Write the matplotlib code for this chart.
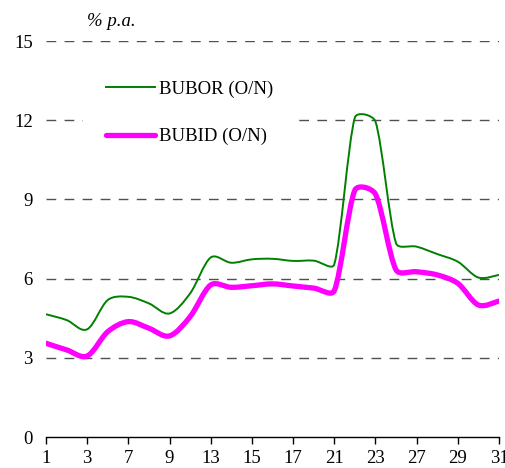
import numpy as np
import matplotlib
matplotlib.use("Agg")
import matplotlib.pyplot as plt
from matplotlib.path import Path
from matplotlib.patches import PathPatch
from matplotlib.lines import Line2D

# business days of the month (every second one is labelled)
days = [1, 2, 3, 6, 7, 8, 9, 10, 13, 14, 15, 16, 17, 20, 21, 22, 23, 24, 27, 28, 29, 30, 31]
bubor = [4.65, 4.43, 4.08, 5.19, 5.31, 5.06, 4.68, 5.44, 6.80, 6.60, 6.73, 6.75,
         6.67, 6.68, 6.54, 12.10, 11.95, 7.34, 7.21, 6.93, 6.64, 6.04, 6.14]
bubid = [3.55, 3.30, 3.07, 3.99, 4.37, 4.12, 3.83, 4.56, 5.76, 5.67, 5.73, 5.80,
         5.72, 5.64, 5.54, 9.35, 9.20, 6.33, 6.26, 6.14, 5.82, 5.00, 5.15]
y_ticks = [0, 3, 6, 9, 12, 15]

plt.rcParams['font.family'] = ['Liberation Serif', 'DejaVu Serif']
FS = 13.5
PX_X = 453 / 22.0   # pixels per category
PX_Y = 396 / 15.0   # pixels per percent


def smooth_path(xs, ys):
    # excel-like smoothed line: cubic bezier with catmull-rom tangents,
    # tangent length capped at a third of the segment (in screen space)
    pts = np.column_stack([np.asarray(xs) * PX_X, np.asarray(ys) * PX_Y]).astype(float)
    n = len(pts)
    tang = []
    for i in range(n):
        tang.append((pts[min(i + 1, n - 1)] - pts[max(i - 1, 0)]) / 6.0)
    verts = [pts[0]]
    codes = [Path.MOVETO]
    for i in range(n - 1):
        p1, p2 = pts[i], pts[i + 1]
        seg = np.hypot(*(p2 - p1)) / 3.0
        t1, t2 = tang[i], tang[i + 1]
        l1, l2 = np.hypot(*t1), np.hypot(*t2)
        if l1 > seg:
            t1 = t1 * seg / l1
        if l2 > seg:
            t2 = t2 * seg / l2
        verts += [p1 + t1, p2 - t2, p2]
        codes += [Path.CURVE4] * 3
    verts = np.array(verts)
    verts[:, 0] /= PX_X
    verts[:, 1] /= PX_Y
    return Path(verts, codes)


fig = plt.figure(figsize=(5.06, 4.68), dpi=100)
ax = fig.add_axes([46 / 506, 1 - 437 / 468, 453 / 506, 396 / 468])

x = np.arange(len(days))
ax.set_xlim(0, len(days) - 1)
ax.set_ylim(0, 15)

for yv in y_ticks[1:]:
    ax.axhline(yv, color='#505050', lw=1.0, dashes=(7, 6), zorder=1)

ax.add_patch(PathPatch(smooth_path(x, bubor), fill=False, edgecolor='#008000',
                       lw=1.4, zorder=3))
ax.add_patch(PathPatch(smooth_path(x, bubid), fill=False, edgecolor='#ff00ff',
                       lw=3.8, capstyle='round', joinstyle='round', zorder=2))

ax.set_xticks(x[::2])
ax.set_xticklabels([str(d) for d in days[::2]], fontsize=FS)
ax.set_yticks(y_ticks)
ax.set_yticklabels([str(v) for v in y_ticks], fontsize=FS)
ax.tick_params(axis='x', direction='out', length=5, width=1, pad=4.5, color='black')
ax.tick_params(axis='y', length=0, pad=9.5)

for s in ['left', 'right', 'top']:
    ax.spines[s].set_visible(False)
ax.spines['bottom'].set_linewidth(1.0)
ax.spines['bottom'].set_zorder(4)

handles = [Line2D([], [], color='#008000', lw=1.4),
           Line2D([], [], color='#ff00ff', lw=3.8, solid_capstyle='round')]
leg = ax.legend(handles, ['BUBOR (O/N)', 'BUBID (O/N)'], loc='upper left',
                bbox_to_anchor=((83 - 46) / 453, (437 - 57) / 396),
                fontsize=FS, frameon=True, fancybox=False, framealpha=1,
                handlelength=2.6, handletextpad=0.2, labelspacing=1.62,
                borderpad=1.25, borderaxespad=0)
leg.get_frame().set_edgecolor('none')
leg.get_frame().set_facecolor('white')
leg.set_zorder(5)

fig.text(87 / 506, 1 - 21 / 468, '% p.a.', fontsize=FS, style='italic',
         ha='left', va='center')

fig.savefig('out.png', dpi=100)
